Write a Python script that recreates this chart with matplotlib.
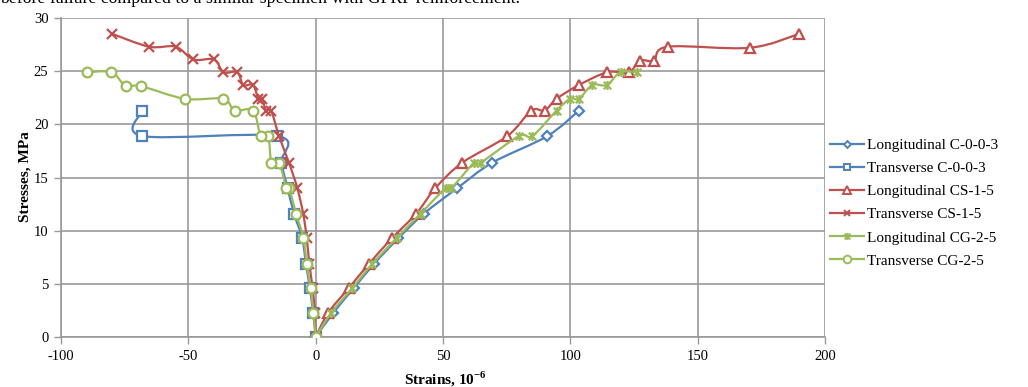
import matplotlib
matplotlib.use("Agg")
import matplotlib.pyplot as plt
from matplotlib.path import Path
from matplotlib.patches import PathPatch
from matplotlib.lines import Line2D

plt.rcParams['font.family'] = ['Liberation Serif', 'DejaVu Serif']
plt.rcParams['mathtext.fontset'] = 'custom'
plt.rcParams['mathtext.rm'] = 'Liberation Serif'
plt.rcParams['mathtext.bf'] = 'Liberation Serif:bold'
plt.rcParams['axes.unicode_minus'] = False

# --- данные ---
long_c003_x = [0, 7, 15, 23, 32.5, 42.5, 55.6, 69.4, 91, 103.4]
long_c003_y = [0, 2.3, 4.6, 6.9, 9.3, 11.6, 14.0, 16.4, 18.9, 21.3]

trans_c003_x = [0, -1, -2.3, -3.8, -5.3, -8.5, -11, -13.5, -15, -68, -68]
trans_c003_y = [0, 2.3, 4.6, 6.9, 9.3, 11.6, 14.0, 16.4, 18.9, 18.9, 21.3]

long_cs15_x = [0, 5, 13, 21, 30, 39.5, 47, 57.6, 75.3, 84.7, 89.9, 94.6, 103.4,
               114.5, 123, 127.3, 132.8, 138.3, 170.5, 189.8]
long_cs15_y = [0, 2.3, 4.6, 6.9, 9.3, 11.6, 14.0, 16.4, 18.9, 21.3, 21.3, 22.4, 23.7,
               24.9, 24.9, 26.0, 26.0, 27.3, 27.2, 28.5]

trans_cs15_x = [0, -0.3, -1.2, -2.5, -3.5, -4.9, -7.2, -10.5, -14.4, -17.5, -19.5,
                -21, -22.5, -24.6, -28.4, -30.8, -36.2, -39.9, -48, -55, -65.4, -79.8]
trans_cs15_y = [0, 2.3, 4.6, 6.9, 9.3, 11.6, 14.0, 16.4, 18.9, 21.3, 21.3,
                22.4, 22.4, 23.7, 23.7, 24.9, 24.9, 26.1, 26.1, 27.3, 27.3, 28.5]

long_cg25_x = [0, 6.2, 14.4, 22.3, 31.8, 41.2, 51, 53.3, 62.2, 64.8, 79.8, 85.1, 94.6,
               99.9, 103.4, 108.6, 114.3, 119.7, 126.3]
long_cg25_y = [0, 2.3, 4.6, 6.9, 9.3, 11.6, 14.0, 14.0, 16.4, 16.4, 18.9, 18.9, 21.3,
               22.4, 22.4, 23.7, 23.7, 24.9, 24.9]

trans_cg25_x = [0, -0.9, -2.0, -3.5, -4.8, -7.7, -10.5, -11.5, -14.4, -17.4, -18.6,
                -21.6, -24.6, -31.8, -36.4, -51.4, -68.7, -74.6, -80.2, -89.9]
trans_cg25_y = [0, 2.3, 4.6, 6.9, 9.3, 11.6, 14.05, 14.05, 16.4, 16.4, 18.9,
                18.9, 21.3, 21.3, 22.4, 22.4, 23.6, 23.6, 24.9, 24.9]

x_ticks = [-100, -50, 0, 50, 100, 150, 200]
y_ticks = [0, 5, 10, 15, 20, 25, 30]

blue = '#4F81BD'
red = '#C0504D'
green = '#9BBB59'

star = Path([(-1, -1), (1, 1), (-1, 1), (1, -1), (0, -1.2), (0, 1.2)],
            [Path.MOVETO, Path.LINETO, Path.MOVETO, Path.LINETO, Path.MOVETO, Path.LINETO])

series = [
    ('Longitudinal C-0-0-3', long_c003_x, long_c003_y, blue, 'D', 5.0),
    ('Transverse C-0-0-3', trans_c003_x, trans_c003_y, blue, 's', 6.5),
    ('Longitudinal CS-1-5', long_cs15_x, long_cs15_y, red, '^', 7.5),
    ('Transverse CS-1-5', trans_cs15_x, trans_cs15_y, red, 'x', 6.5),
    ('Longitudinal CG-2-5', long_cg25_x, long_cg25_y, green, star, 6.5),
    ('Transverse CG-2-5', trans_cg25_x, trans_cg25_y, green, 'o', 7.0),
]


def smooth_path(xs, ys):
    # сглаженная линия как в Excel (безье через точки)
    pts = list(zip(xs, ys))
    verts = [pts[0]]
    codes = [Path.MOVETO]
    n = len(pts)
    for i in range(n - 1):
        p0 = pts[i - 1] if i > 0 else pts[i]
        p1 = pts[i]
        p2 = pts[i + 1]
        p3 = pts[i + 2] if i + 2 < n else pts[i + 1]
        c1 = (p1[0] + (p2[0] - p0[0]) / 6, p1[1] + (p2[1] - p0[1]) / 6)
        c2 = (p2[0] - (p3[0] - p1[0]) / 6, p2[1] - (p3[1] - p1[1]) / 6)
        verts += [c1, c2, p2]
        codes += [Path.CURVE4] * 3
    return Path(verts, codes)


fig = plt.figure(figsize=(10.28, 3.87), dpi=100)
ax = fig.add_axes([61 / 1028, 50 / 387, 764 / 1028, 319 / 387])

handles = []
for k, (name, xs, ys, col, mk, ms) in enumerate(series):
    ax.add_patch(PathPatch(smooth_path(xs, ys), facecolor='none', edgecolor=col,
                           lw=1.6, zorder=3 + k))
    filled = mk in ('x',) or mk is star
    ax.plot(xs, ys, linestyle='none', marker=mk, ms=ms, mec=col,
            mfc=col if filled else 'white', mew=1.6, zorder=3 + k)
    handles.append(Line2D([], [], color=col, lw=1.6, marker=mk, ms=ms - 1.5, mec=col,
                          mfc=col if filled else 'white', mew=1.4, label=name))

ax.set_xlim(-100, 200)
ax.set_ylim(0, 30)
ax.set_xticks(x_ticks)
ax.set_yticks(y_ticks)
ax.grid(True, color='#999999', lw=1.2)
ax.set_axisbelow(True)
for s in ['top', 'right']:
    ax.spines[s].set_visible(False)
for s in ['left', 'bottom']:
    ax.spines[s].set_color('#999999')
    ax.spines[s].set_linewidth(1.2)
ax.tick_params(colors='#999999', labelcolor='black', labelsize=10.5, length=5, width=1)
ax.tick_params(axis='x', pad=4)
ax.tick_params(axis='y', pad=4)

fig.text(445 / 1028, 1 - 379 / 387, r'Strains, 10$^{\mathbf{-6}}$', ha='center', va='center',
         fontsize=11, fontweight='bold')
fig.text(25 / 1028, 1 - 177 / 387, 'Stresses, MPa', rotation=90, ha='center', va='center',
         fontsize=11, fontweight='bold')

fig.text(0.0, 1 - 3 / 387, 'before failure compared to a similar specimen with GFRP reinforcement.',
         ha='left', va='baseline', fontsize=12.8)

fig.legend(handles=handles, loc='center left', bbox_to_anchor=(830 / 1028, 1 - 203 / 387),
           frameon=False, fontsize=11, handlelength=2.2, handletextpad=0.2,
           labelspacing=0.62, borderaxespad=0, borderpad=0)

fig.savefig('out.png', dpi=100)
